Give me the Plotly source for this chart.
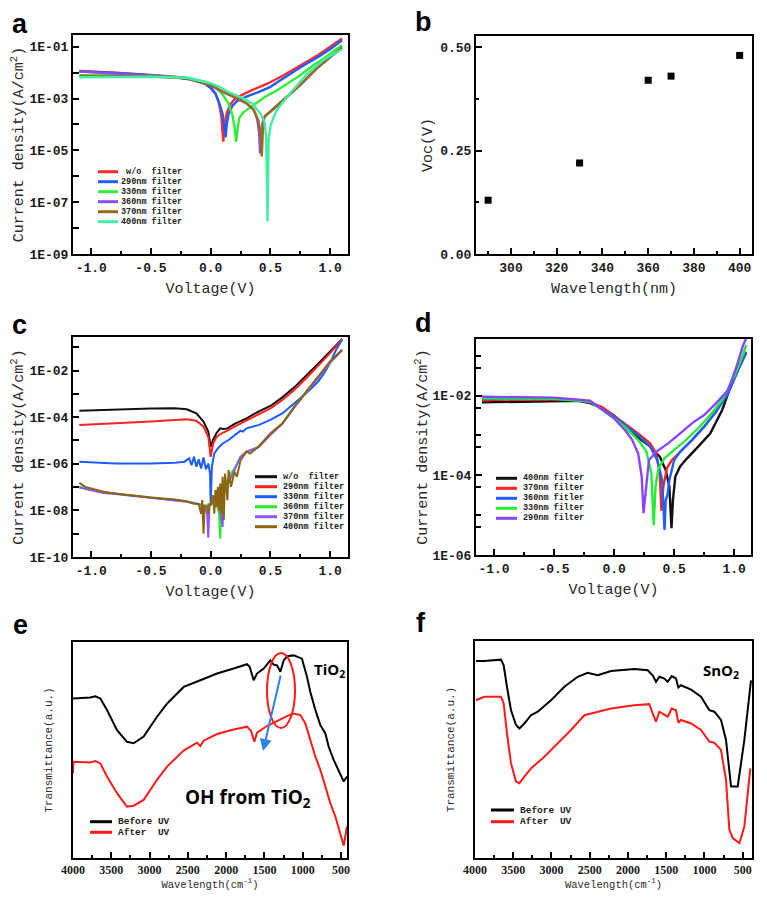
import plotly.graph_objects as go

# page is 767x908; the browser body adds an 8px margin, so the figure is sized to fit inside it
PAGE_W, PAGE_H = 767, 908
OFF = 8
W, H = PAGE_W - 2 * OFF, PAGE_H - 2 * OFF
NB = "\u00a0"

# ---------------- Panel a : J-V (log) ----------------
a_names = [NB + "w/o" + NB * 2 + "filter", "290nm filter", "330nm filter",
           "360nm filter", "370nm filter", "400nm filter"]
a_colors = ["#ff2a2a", "#1f5cff", "#2fef3a", "#8a4fe8", "#9a6a1c", "#40f0a2"]
a_wo_v = [-1.1, -0.8, -0.5, -0.3, -0.15, -0.05, 0.0, 0.04, 0.07, 0.09, 0.105, 0.115, 0.13, 0.16, 0.2, 0.25, 0.35, 0.47, 0.6, 0.75, 0.9, 1.0, 1.1]
a_wo_logj = [-1.94, -2.00, -2.09, -2.16, -2.26, -2.41, -2.57, -2.80, -3.19, -3.70, -4.67, -4.09, -3.64, -3.25, -3.03, -2.89, -2.67, -2.44, -2.13, -1.71, -1.32, -1.00, -0.68]
a_290_v = [-1.1, -0.8, -0.5, -0.3, -0.15, -0.05, 0.0, 0.04, 0.07, 0.1, 0.125, 0.135, 0.15, 0.18, 0.22, 0.3, 0.4, 0.5, 0.6, 0.75, 0.9, 1.0, 1.1]
a_290_logj = [-1.95, -2.01, -2.10, -2.18, -2.28, -2.43, -2.60, -2.82, -3.15, -3.60, -4.50, -4.00, -3.60, -3.30, -3.10, -2.93, -2.75, -2.55, -2.25, -1.80, -1.40, -1.10, -0.75]
a_330_v = [-1.1, -0.8, -0.5, -0.2, -0.05, 0.05, 0.1, 0.15, 0.18, 0.2, 0.213, 0.225, 0.24, 0.27, 0.3, 0.35, 0.45, 0.55, 0.65, 0.75, 0.85, 0.95, 1.05, 1.1]
a_330_logj = [-2.10, -2.11, -2.12, -2.20, -2.35, -2.60, -2.85, -3.20, -3.60, -4.10, -4.67, -4.20, -3.75, -3.55, -3.45, -3.25, -2.95, -2.70, -2.40, -2.10, -1.75, -1.45, -1.10, -0.95]
a_360_v = [-1.1, -0.8, -0.5, -0.2, 0.0, 0.1, 0.2, 0.3, 0.36, 0.39, 0.405, 0.414, 0.425, 0.44, 0.46, 0.5, 0.61, 0.75, 0.89, 1.03, 1.1]
a_360_logj = [-1.96, -2.03, -2.12, -2.22, -2.50, -2.75, -2.95, -3.19, -3.44, -3.80, -4.30, -5.12, -4.20, -3.80, -3.65, -3.51, -3.06, -2.48, -1.84, -1.32, -1.04]
a_370_v = [-1.1, -0.8, -0.5, -0.2, 0.0, 0.1, 0.2, 0.3, 0.36, 0.4, 0.418, 0.428, 0.437, 0.45, 0.47, 0.5, 0.61, 0.75, 0.89, 1.03, 1.1]
a_370_logj = [-2.13, -2.14, -2.15, -2.22, -2.48, -2.73, -2.94, -3.18, -3.42, -3.85, -4.40, -5.24, -4.20, -3.72, -3.62, -3.50, -3.05, -2.47, -1.82, -1.30, -1.03]
a_400_v = [-1.1, -0.8, -0.5, -0.2, 0.0, 0.08, 0.15, 0.25, 0.35, 0.42, 0.45, 0.465, 0.476, 0.485, 0.5, 0.52, 0.554, 0.665, 0.80, 0.944, 1.1]
a_400_logj = [-2.18, -2.17, -2.16, -2.20, -2.41, -2.57, -2.75, -2.95, -3.20, -3.60, -3.90, -4.50, -7.75, -4.60, -4.10, -3.80, -3.44, -2.80, -2.09, -1.51, -1.10]
a_series = [(a_wo_v, a_wo_logj), (a_290_v, a_290_logj), (a_330_v, a_330_logj),
            (a_360_v, a_360_logj), (a_370_v, a_370_logj), (a_400_v, a_400_logj)]

# ---------------- Panel b : Voc vs wavelength ----------------
b_wavelength = [290, 330, 360, 370, 400]
b_voc = [0.13, 0.22, 0.42, 0.43, 0.48]

# ---------------- Panel c : J-V (log) ----------------
c_names = ["w/o" + NB * 2 + "filter", "290nm filter", "330nm filter",
           "360nm filter", "370nm filter", "400nm filter"]
c_colors = ["#111111", "#ff2020", "#1a5aff", "#22ee22", "#9055ff", "#8b6414"]
c_wo_v = [-1.1, -0.8, -0.5, -0.3, -0.2, -0.12, -0.06, -0.02, 0.0, 0.02, 0.05, 0.08, 0.11, 0.14, 0.2, 0.3, 0.4, 0.5, 0.6, 0.7, 0.8, 0.9, 1.0, 1.1]
c_wo_logj = [-3.72, -3.66, -3.63, -3.62, -3.66, -3.84, -4.19, -4.62, -5.27, -4.98, -4.67, -4.48, -4.51, -4.48, -4.29, -4.05, -3.76, -3.52, -3.15, -2.72, -2.23, -1.71, -1.18, -0.65]
c_290_v = [-1.1, -0.8, -0.5, -0.3, -0.2, -0.12, -0.06, -0.02, 0.0, 0.02, 0.05, 0.1, 0.14, 0.2, 0.3, 0.4, 0.5, 0.6, 0.7, 0.8, 0.9, 1.0, 1.1]
c_290_logj = [-4.34, -4.27, -4.19, -4.12, -4.09, -4.15, -4.41, -4.84, -5.70, -5.13, -4.84, -4.67, -4.58, -4.41, -4.15, -3.86, -3.62, -3.26, -2.83, -2.33, -1.80, -1.25, -0.65]
c_330_v = [-1.1, -0.8, -0.5, -0.3, -0.22, -0.18, -0.16, -0.14, -0.12, -0.1, -0.08, -0.06, -0.04, -0.02, -0.005, 0.0, 0.01, 0.03, 0.06, 0.1, 0.15, 0.2, 0.25, 0.27, 0.3, 0.4, 0.5, 0.6, 0.7, 0.8, 0.9, 0.95, 1.0, 1.05, 1.1]
c_330_logj = [-5.91, -5.99, -5.99, -5.96, -5.91, -5.77, -6.06, -5.70, -6.13, -5.81, -6.20, -5.73, -6.24, -5.99, -6.42, -7.71, -6.13, -5.56, -5.34, -5.13, -4.98, -4.77, -4.58, -4.62, -4.48, -4.34, -4.12, -3.84, -3.41, -2.97, -2.47, -2.11, -1.68, -1.11, -0.68]
c_360_v = [-1.1, -1.0, -0.9, -0.8, -0.6, -0.4, -0.2, -0.1, -0.04, -0.02, 0.0, 0.02, 0.05, 0.07, 0.08, 0.09, 0.1, 0.12, 0.15, 0.2, 0.25, 0.3, 0.4, 0.5, 0.6, 0.7, 0.8, 0.9, 1.0, 1.1]
c_360_logj = [-6.99, -7.10, -7.22, -7.28, -7.39, -7.51, -7.62, -7.71, -7.82, -7.73, -7.78, -7.63, -7.73, -8.14, -9.21, -7.85, -7.28, -6.99, -6.56, -6.20, -5.70, -5.48, -5.27, -4.72, -4.27, -3.58, -2.95, -2.29, -1.66, -1.11]
c_370_v = [-1.1, -1.0, -0.9, -0.8, -0.6, -0.4, -0.2, -0.1, -0.05, -0.03, -0.02, -0.01, 0.0, 0.02, 0.04, 0.06, 0.08, 0.1, 0.11, 0.13, 0.16, 0.2, 0.25, 0.3, 0.4, 0.5, 0.6, 0.7, 0.8, 0.9, 1.0, 1.1]
c_370_logj = [-7.02, -7.13, -7.25, -7.30, -7.42, -7.52, -7.63, -7.73, -7.85, -8.14, -9.17, -7.78, -7.73, -7.56, -7.85, -7.42, -7.99, -8.71, -7.13, -6.99, -6.70, -6.27, -5.70, -5.48, -5.30, -4.77, -4.29, -3.58, -2.95, -2.29, -1.66, -1.14]
c_400_v = [-1.1, -1.05, -1.0, -0.9, -0.8, -0.7, -0.6, -0.5, -0.4, -0.3, -0.2, -0.15, -0.1, -0.08, -0.07, -0.06, -0.05, -0.03, -0.02, -0.01, 0.0, 0.02, 0.03, 0.04, 0.05, 0.06, 0.07, 0.08, 0.09, 0.1, 0.11, 0.12, 0.14, 0.15, 0.17, 0.2, 0.22, 0.25, 0.3, 0.33, 0.4, 0.45, 0.5, 0.55, 0.6, 0.7, 0.8, 0.9, 1.0, 1.1]
c_400_logj = [-6.82, -6.99, -7.06, -7.20, -7.28, -7.35, -7.39, -7.45, -7.49, -7.53, -7.61, -7.71, -7.73, -8.14, -7.56, -9.00, -7.78, -7.85, -8.14, -7.71, -7.78, -7.35, -8.14, -7.13, -7.85, -6.99, -7.99, -6.85, -8.14, -6.56, -8.42, -6.42, -7.56, -6.27, -6.99, -6.34, -6.56, -5.84, -5.48, -5.56, -5.27, -4.98, -4.70, -4.48, -4.27, -3.55, -2.90, -2.26, -1.61, -1.11]
c_series = [(c_wo_v, c_wo_logj), (c_290_v, c_290_logj), (c_330_v, c_330_logj),
            (c_360_v, c_360_logj), (c_370_v, c_370_logj), (c_400_v, c_400_logj)]

# ---------------- Panel d : J-V (log) ----------------
d_names = ["400nm filter", "370nm filter", "360nm fitler", "330nm filter", "290nm filter"]
d_colors = ["#111111", "#ff2222", "#1f5fff", "#22ee33", "#8844ff"]
d_400_v = [-1.1, -0.8, -0.5, -0.3, -0.2, -0.1, 0.0, 0.1, 0.2, 0.3, 0.38, 0.43, 0.46, 0.478, 0.49, 0.51, 0.55, 0.6, 0.7, 0.8, 0.9, 0.97, 1.03, 1.07]
d_400_logj = [-2.17, -2.15, -2.13, -2.13, -2.19, -2.32, -2.50, -2.82, -3.05, -3.28, -3.53, -3.87, -4.28, -5.33, -4.62, -4.03, -3.78, -3.60, -3.28, -2.95, -2.36, -1.77, -1.36, -1.10]
d_370_v = [-1.1, -0.5, -0.3, -0.2, -0.1, 0.0, 0.1, 0.2, 0.3, 0.35, 0.38, 0.394, 0.41, 0.44, 0.48, 0.55, 0.65, 0.75, 0.85, 0.95, 1.02, 1.1]
d_370_logj = [-2.11, -2.09, -2.11, -2.17, -2.29, -2.51, -2.74, -2.95, -3.20, -3.45, -3.95, -4.89, -4.28, -3.82, -3.62, -3.41, -3.11, -2.78, -2.40, -1.90, -1.40, -0.94]
d_360_v = [-1.1, -0.5, -0.2, 0.0, 0.1, 0.2, 0.3, 0.36, 0.4, 0.42, 0.43, 0.445, 0.46, 0.5, 0.55, 0.65, 0.75, 0.85, 0.95, 1.03, 1.1]
d_360_logj = [-2.08, -2.08, -2.15, -2.53, -2.76, -2.99, -3.28, -3.62, -4.12, -5.37, -4.62, -4.49, -4.12, -3.62, -3.41, -3.11, -2.78, -2.40, -1.94, -1.36, -0.90]
d_330_v = [-1.1, -0.5, -0.2, 0.0, 0.1, 0.2, 0.27, 0.31, 0.33, 0.345, 0.37, 0.42, 0.5, 0.6, 0.7, 0.8, 0.9, 1.0, 1.05, 1.1]
d_330_logj = [-2.07, -2.08, -2.15, -2.57, -2.82, -3.11, -3.41, -3.95, -5.25, -4.28, -3.82, -3.57, -3.36, -3.11, -2.82, -2.49, -2.11, -1.52, -1.15, -0.73]
d_290_v = [-1.1, -0.5, -0.2, 0.0, 0.1, 0.15, 0.2, 0.23, 0.245, 0.26, 0.27, 0.29, 0.35, 0.45, 0.55, 0.65, 0.75, 0.85, 0.95, 1.02, 1.07, 1.1]
d_290_logj = [-2.03, -2.05, -2.13, -2.57, -2.90, -3.11, -3.45, -4.03, -4.95, -4.45, -4.24, -3.62, -3.41, -3.20, -2.95, -2.69, -2.49, -2.19, -1.86, -1.27, -0.77, -0.56]
d_series = [(d_400_v, d_400_logj), (d_370_v, d_370_logj), (d_360_v, d_360_logj),
            (d_330_v, d_330_logj), (d_290_v, d_290_logj)]

# ---------------- Panel e : FTIR TiO2 ----------------
ft_names = ["Before" + NB + "UV", "After" + NB * 2 + "UV"]
ft_colors = ["#000000", "#ff1a1a"]
e_before_wn = [4000, 3774, 3708, 3643, 3556, 3425, 3295, 3208, 3077, 2903, 2772, 2555, 2337, 2119, 1902, 1728, 1693, 1641, 1597, 1510, 1423, 1380, 1336, 1292, 1249, 1205, 1118, 1010, 944, 901, 835, 770, 705, 661, 596, 531, 465, 422]
e_before_t = [73.8, 74.3, 74.9, 73.8, 68.5, 59.2, 53.8, 53.1, 56.2, 65.4, 71.5, 79.2, 82.3, 85.4, 87.7, 89.7, 88.5, 82.3, 85.4, 87.7, 91.5, 89.5, 89.2, 86.2, 91.5, 93.4, 93.8, 92.3, 83.8, 76.9, 68.5, 61.5, 57.7, 51.5, 45.4, 40.8, 35.4, 37.7]
e_after_wn = [4000, 3995, 3774, 3708, 3643, 3556, 3425, 3295, 3208, 3077, 2903, 2772, 2555, 2381, 2337, 2294, 2119, 1902, 1728, 1676, 1632, 1597, 1467, 1336, 1205, 1118, 1031, 966, 901, 835, 770, 705, 640, 574, 509, 465, 422]
e_after_t = [39.2, 44.6, 44.2, 44.9, 43.8, 37.7, 30.0, 23.8, 24.2, 26.9, 36.2, 42.3, 49.7, 53.4, 51.8, 54.3, 57.4, 59.5, 60.8, 58.9, 53.8, 58.0, 61.1, 63.5, 65.7, 66.9, 66.2, 62.3, 54.6, 46.9, 40.8, 33.1, 25.4, 19.2, 11.5, 5.7, 14.6]

# ---------------- Panel f : FTIR SnO2 ----------------
f_before_wn = [3987, 3878, 3660, 3625, 3582, 3529, 3464, 3420, 3355, 3268, 3180, 3006, 2832, 2657, 2527, 2396, 2222, 1916, 1742, 1677, 1633, 1589, 1524, 1480, 1428, 1372, 1341, 1306, 1175, 1045, 936, 870, 783, 718, 652, 565, 478, 391]
f_before_t = [90.8, 90.8, 91.4, 88.8, 78.9, 68.1, 61.3, 59.7, 62.0, 65.8, 67.4, 72.7, 78.9, 83.5, 85.3, 84.2, 86.2, 87.1, 86.5, 84.2, 81.2, 83.5, 82.7, 81.2, 83.8, 82.7, 78.6, 79.6, 77.6, 74.3, 68.1, 67.4, 63.6, 54.4, 32.9, 32.9, 54.4, 81.9]
f_after_wn = [3987, 3878, 3660, 3625, 3582, 3529, 3464, 3420, 3355, 3268, 3093, 2919, 2745, 2570, 2396, 2222, 1916, 1720, 1677, 1633, 1589, 1524, 1480, 1428, 1372, 1341, 1306, 1175, 1045, 936, 870, 783, 718, 674, 630, 543, 478, 400]
f_after_t = [72.7, 74.3, 74.3, 71.2, 57.4, 43.6, 35.2, 34.5, 37.5, 41.3, 46.7, 52.8, 59.0, 65.8, 67.4, 68.9, 70.4, 70.9, 66.6, 62.8, 67.4, 65.8, 65.1, 68.9, 68.1, 62.3, 63.6, 62.0, 59.0, 53.6, 53.1, 49.8, 36.0, 13.0, 9.2, 6.9, 14.5, 41.3]

# tick labels
log_odd_vals = [1e-1, 1e-3, 1e-5, 1e-7, 1e-9]
log_odd_text = ["1E-01", "1E-03", "1E-05", "1E-07", "1E-09"]
log_even_vals = [1e-2, 1e-4, 1e-6, 1e-8, 1e-10]
log_even_text = ["1E-02", "1E-04", "1E-06", "1E-08", "1E-10"]
d_minor_vals = [1e-1, 5e-2, 5e-3, 1e-3, 5e-4, 5e-5, 1e-5, 5e-6]
volt_vals = [-1.0, -0.5, 0.0, 0.5, 1.0]
volt_text = ["-1.0", "-0.5", "0.0", "0.5", "1.0"]
voc_vals = [0.0, 0.25, 0.5]
voc_text = ["0.00", "0.25", "0.50"]
wn_vals = [4000, 3500, 3000, 2500, 2000, 1500, 1000, 500]

# ---------------- helpers (page pixel -> paper fraction) ----------------
def px(x):
    return (x - OFF) / W

def py(y):
    return 1 - (y - OFF) / H

MONO = "Liberation Mono"
TICKFONT = dict(family=MONO, size=13, color="#1a1a1a", weight="bold")
TITLEFONT = dict(family=MONO, size=15, color="#2a2a2a")


def base_axis(dom, anchor, **kw):
    d = dict(domain=dom, anchor=anchor, showline=True, linewidth=2, linecolor="black",
             mirror=True, showgrid=False, zeroline=False, ticks="inside",
             tickcolor="black", tickwidth=2, ticklen=6, tickfont=TICKFONT,
             automargin=False)
    d.update(kw)
    return d


def minor(**kw):
    d = dict(ticks="inside", ticklen=3, tickwidth=2, tickcolor="black")
    d.update(kw)
    return d


fig = go.Figure()

# panel a
for (v, lj), name, col in zip(a_series, a_names, a_colors):
    fig.add_trace(go.Scatter(x=v, y=[10 ** q for q in lj], mode="lines", name=name,
                             line=dict(color=col, width=2.4), xaxis="x", yaxis="y",
                             showlegend=False))
# panel b
fig.add_trace(go.Scatter(x=b_wavelength, y=b_voc, mode="markers", name="Voc",
                         marker=dict(symbol="square", size=7, color="black"),
                         xaxis="x2", yaxis="y2", showlegend=False))
# panel c
for (v, lj), name, col in zip(c_series, c_names, c_colors):
    fig.add_trace(go.Scatter(x=v, y=[10 ** q for q in lj], mode="lines", name=name,
                             line=dict(color=col, width=2), xaxis="x3", yaxis="y3",
                             showlegend=False))
# panel d
for (v, lj), name, col in zip(d_series, d_names, d_colors):
    fig.add_trace(go.Scatter(x=v, y=[10 ** q for q in lj], mode="lines", name=name,
                             line=dict(color=col, width=2.4), xaxis="x4", yaxis="y4",
                             showlegend=False))
# panel e
for wn, t, name, col in [(e_before_wn, e_before_t, ft_names[0], ft_colors[0]),
                         (e_after_wn, e_after_t, ft_names[1], ft_colors[1])]:
    fig.add_trace(go.Scatter(x=wn, y=t, mode="lines", name=name,
                             line=dict(color=col, width=2), xaxis="x5", yaxis="y5",
                             showlegend=False))
# panel f
for wn, t, name, col in [(f_before_wn, f_before_t, ft_names[0], ft_colors[0]),
                         (f_after_wn, f_after_t, ft_names[1], ft_colors[1])]:
    fig.add_trace(go.Scatter(x=wn, y=t, mode="lines", name=name,
                             line=dict(color=col, width=2), xaxis="x6", yaxis="y6",
                             showlegend=False))

ydens = "Current density(A/cm<sup>2</sup>)"
volt_x = dict(tickmode="array", tickvals=volt_vals, ticktext=volt_text,
              minor=minor(tickmode="array", tickvals=[-0.75, -0.25, 0.25, 0.75]),
              title=dict(text="Voltage(V)", font=TITLEFONT, standoff=8))
ymin_long = dict(ticklen=6)

layout = dict(
    width=W, height=H, margin=dict(l=0, r=0, t=0, b=0, autoexpand=False),
    paper_bgcolor="white", plot_bgcolor="white", showlegend=False,
    xaxis=base_axis([px(73), px(348)], "y", range=[-1.153, 1.15], **volt_x),
    yaxis=base_axis([py(254), py(35)], "x", type="log", range=[-9, -0.55],
                    tickmode="array", tickvals=log_odd_vals, ticktext=log_odd_text,
                    minor=minor(tickmode="array", tickvals=log_even_vals, **ymin_long),
                    title=dict(text=ydens, font=TITLEFONT, standoff=6)),
    xaxis2=base_axis([px(476), px(752)], "y2", range=[284.7, 405.4],
                     tickmode="array", tickvals=[300, 320, 340, 360, 380, 400],
                     minor=minor(tickmode="array", tickvals=[290, 310, 330, 350, 370, 390]),
                     title=dict(text="Wavelength(nm)", font=TITLEFONT, standoff=8)),
    yaxis2=base_axis([py(254), py(36)], "x2", range=[0, 0.527],
                     tickmode="array", tickvals=voc_vals, ticktext=voc_text,
                     minor=minor(tickmode="array", tickvals=[0.125, 0.375]),
                     title=dict(text="Voc(V)", font=TITLEFONT, standoff=4)),
    xaxis3=base_axis([px(73), px(348)], "y3", range=[-1.153, 1.15], **volt_x),
    yaxis3=base_axis([py(557), py(337)], "x3", type="log", range=[-10, -0.56],
                     tickmode="array", tickvals=log_even_vals, ticktext=log_even_text,
                     minor=minor(tickmode="array", tickvals=log_odd_vals, **ymin_long),
                     title=dict(text=ydens, font=TITLEFONT, standoff=5)),
    xaxis4=base_axis([px(476), px(751)], "y4", range=[-1.15, 1.14], **volt_x),
    yaxis4=base_axis([py(555), py(339)], "x4", type="log", range=[-6, -0.58],
                     tickmode="array", tickvals=log_even_vals[:3], ticktext=log_even_text[:3],
                     minor=minor(tickmode="array", tickvals=d_minor_vals, ticklen=5),
                     title=dict(text=ydens, font=TITLEFONT, standoff=0)),
    xaxis5=base_axis([px(73), px(347)], "y5", range=[4000, 422],
                     tickmode="array", tickvals=wn_vals,
                     tickfont=dict(family="Liberation Serif", size=12, color="#1a1a1a", weight="bold"),
                     minor=minor(dtick=250, tick0=500),
                     title=dict(text="Wavelength(cm<sup>-1</sup>)",
                                font=dict(family=MONO, size=10.5, color="#2a2a2a"), standoff=0)),
    yaxis5=base_axis([py(858), py(642)], "x5", range=[0, 100], ticks="", showticklabels=False,
                     title=dict(text="Transmittance(a.u.)",
                                font=dict(family=MONO, size=11, color="#2a2a2a"), standoff=16)),
    xaxis6=base_axis([px(475), px(752)], "y6", range=[4000, 378],
                     tickmode="array", tickvals=wn_vals,
                     tickfont=dict(family="Liberation Serif", size=12, color="#1a1a1a", weight="bold"),
                     minor=minor(dtick=250, tick0=500),
                     title=dict(text="Wavelength(cm<sup>-1</sup>)",
                                font=dict(family=MONO, size=10.5, color="#2a2a2a"), standoff=2)),
    yaxis6=base_axis([py(858), py(641)], "x6", range=[0, 100], ticks="", showticklabels=False,
                     title=dict(text="Transmittance(a.u.)",
                                font=dict(family=MONO, size=11, color="#2a2a2a"), standoff=16)),
)
fig.update_layout(**layout)

shapes = []
annos = []

# panel letters
for letter, x, y in [("a", 20, 24), ("b", 424, 22), ("c", 19, 325), ("d", 424, 323),
                     ("e", 20, 625), ("f", 421, 623)]:
    annos.append(dict(text=letter, x=px(x), y=py(y), xref="paper", yref="paper",
                      showarrow=False, xanchor="center", yanchor="middle",
                      font=dict(family="Liberation Sans", size=27, color="black", weight="bold")))


def legend_block(names, colors, x0, x1, xt, ys, size):
    for name, col, y in zip(names, colors, ys):
        shapes.append(dict(type="line", xref="paper", yref="paper", x0=px(x0), x1=px(x1),
                           y0=py(y), y1=py(y), line=dict(color=col, width=3)))
        annos.append(dict(text=name, x=px(xt), y=py(y), xref="paper", yref="paper",
                          showarrow=False, xanchor="left", yanchor="middle",
                          font=dict(family=MONO, size=size, color="#222222", weight="bold")))


legend_block(a_names, a_colors, 98, 118, 119, [171.7 + 10 * i for i in range(6)], 8.5)
legend_block(c_names, c_colors, 255, 277, 281, [476.7 + 10 * i for i in range(6)], 8.5)
legend_block(d_names, d_colors, 496, 517, 521, [478.3 + 10 * i for i in range(5)], 8.5)
legend_block(ft_names, ft_colors, 90, 112, 116, [821.7, 832.3], 9.5)
legend_block(ft_names, ft_colors, 491, 514, 518, [810, 821.7], 9.5)

# FTIR annotations
BOLDSANS = dict(family="Open Sans", color="black", weight="bold")
annos.append(dict(text="TiO<sub>2</sub>", x=px(329), y=py(670), xref="paper", yref="paper",
                  xanchor="center", yanchor="middle",
                  showarrow=False, font=dict(size=15, **BOLDSANS)))
annos.append(dict(text="OH from TiO<sub>2</sub>", x=px(248), y=py(798), xref="paper", yref="paper",
                  xanchor="center", yanchor="middle",
                  showarrow=False, font=dict(size=19, **BOLDSANS)))
annos.append(dict(text="SnO<sub>2</sub>", x=px(721), y=py(671), xref="paper", yref="paper",
                  xanchor="center", yanchor="middle",
                  showarrow=False, font=dict(size=15, **BOLDSANS)))
shapes.append(dict(type="circle", xref="paper", yref="paper", x0=px(267), x1=px(295),
                   y0=py(728), y1=py(653), line=dict(color="#ff1a1a", width=2)))
annos.append(dict(text="", x=px(263), y=py(751), xref="paper", yref="paper",
                  ax=18, ay=-77, axref="pixel", ayref="pixel", showarrow=True,
                  arrowhead=2, arrowsize=1.2, arrowwidth=2, arrowcolor="#2f80e8"))

fig.update_layout(shapes=shapes, annotations=annos)
fig.write_html("out.html")
